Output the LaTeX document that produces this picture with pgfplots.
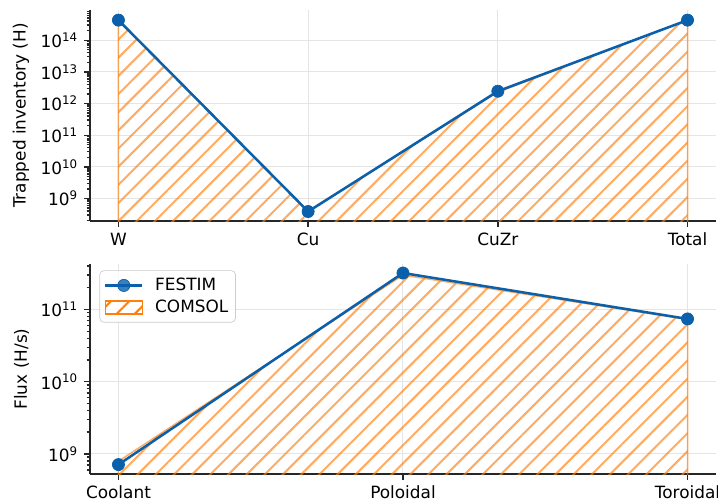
\documentclass[border=0pt]{standalone}
\usepackage{fontspec}
\setmainfont{DejaVu Sans}
\usepackage{pgfplots}
\pgfplotsset{compat=1.18}
\usetikzlibrary{patterns.meta}

\definecolor{festim}{RGB}{10,96,170}
\definecolor{comsol}{RGB}{255,127,14}

\pgfplotsset{
  respanel/.style={
    scale only axis,
    width=370.4pt,
    axis x line*=bottom,
    axis y line*=left,
    axis line style={black!85, line width=0.8pt, -},
    tick style={black!85, line width=0.8pt},
    major tick length=3.5pt,
    minor tick length=2pt,
    tick align=outside,
    grid=major,
    major grid style={black!10, line width=0.6pt},
    tick label style={font=\fontsize{10}{12}\selectfont},
    label style={font=\fontsize{10}{12}\selectfont},
  },
  festimline/.style={festim, line width=1.5pt, mark=*, mark size=3.6pt,
    mark options={fill=festim, draw=festim, line width=0.4pt}},
  comsolfill/.style={draw=comsol, draw opacity=0.65, line width=0.9pt,
    pattern={Lines[angle=45, distance=7.6pt, line width=1.2pt]},
    pattern color=comsol},
  festimlegend/.style={legend image code/.code={
    \draw[##1, mark repeat=2, mark phase=2] plot coordinates {(0pt,0pt) (11pt,0pt) (22pt,0pt)};}},
  comsollegend/.style={legend image code/.code={
    \draw[##1, sharp corners, draw opacity=1, line width=0.8pt] (0pt,-3.8pt) rectangle (22pt,3.8pt);}},
}

\begin{document}
\begin{tikzpicture}
\useasboundingbox (-53.25pt,-166.9pt) rectangle (371.6pt,130.8pt);

% top panel: trapped inventory
\begin{axis}[respanel,
  ymode=log,
  height=124.9pt,
  xmin=-0.15, xmax=3.15,
  ymin=1.95e8, ymax=9e14,
  xtick={0,1,2,3},
  xticklabels={W,Cu,CuZr,Total},
  ytick={1e9,1e10,1e11,1e12,1e13,1e14},
  yticklabels={10\textsuperscript{9},10\textsuperscript{10},10\textsuperscript{11},10\textsuperscript{12},10\textsuperscript{13},10\textsuperscript{14}},
  minor ytick={2e8,3e8,4e8,5e8,6e8,7e8,8e8,9e8,
    2e9,3e9,4e9,5e9,6e9,7e9,8e9,9e9,
    2e10,3e10,4e10,5e10,6e10,7e10,8e10,9e10,
    2e11,3e11,4e11,5e11,6e11,7e11,8e11,9e11,
    2e12,3e12,4e12,5e12,6e12,7e12,8e12,9e12,
    2e13,3e13,4e13,5e13,6e13,7e13,8e13,9e13,
    2e14,3e14,4e14,5e14,6e14,7e14,8e14},
  ylabel={Trapped inventory (H)},
]
\addplot[comsolfill] coordinates {
  (0, 4.3e14) (1, 4.0e8) (2, 2.3e12) (3, 4.3e14)
} \closedcycle;
\addplot[festimline] coordinates {
  (0, 4.3e14) (1, 3.9e8) (2, 2.45e12) (3, 4.3e14)
};
\end{axis}

% bottom panel: flux
\begin{axis}[respanel,
  ymode=log,
  at={(0,-149.7pt)},
  anchor=south west,
  height=124.3pt,
  xmin=-0.1, xmax=2.1,
  ymin=5.25e8, ymax=4.27e11,
  xtick={0,1,2},
  xticklabels={Coolant,Poloidal,Toroidal},
  ytick={1e9,1e10,1e11},
  yticklabels={10\textsuperscript{9},10\textsuperscript{10},10\textsuperscript{11}},
  minor ytick={6e8,7e8,8e8,9e8,
    2e9,3e9,4e9,5e9,6e9,7e9,8e9,9e9,
    2e10,3e10,4e10,5e10,6e10,7e10,8e10,9e10,
    2e11,3e11,4e11},
  ylabel={Flux (H/s)},
  legend style={at={(0.015,0.97)}, anchor=north west,
    draw=black!20, rounded corners=2.5pt, fill=white, fill opacity=0.8,
    text opacity=1, font=\fontsize{10}{12}\selectfont,
    inner xsep=2.5pt, inner ysep=2.5pt, row sep=0.5pt, column sep=5pt,
    nodes={inner sep=1.8pt}},
  legend cell align=left,
]
\addlegendimage{festimline, festimlegend}
\addlegendentry{FESTIM}
\addlegendimage{comsolfill, comsollegend}
\addlegendentry{COMSOL}
\addplot[comsolfill, forget plot] coordinates {
  (0, 7.9e8) (1, 3.0e11) (2, 7.3e10)
} \closedcycle;
\addplot[festimline, forget plot] coordinates {
  (0, 7.1e8) (1, 3.2e11) (2, 7.4e10)
};
\end{axis}
\end{tikzpicture}
\end{document}
